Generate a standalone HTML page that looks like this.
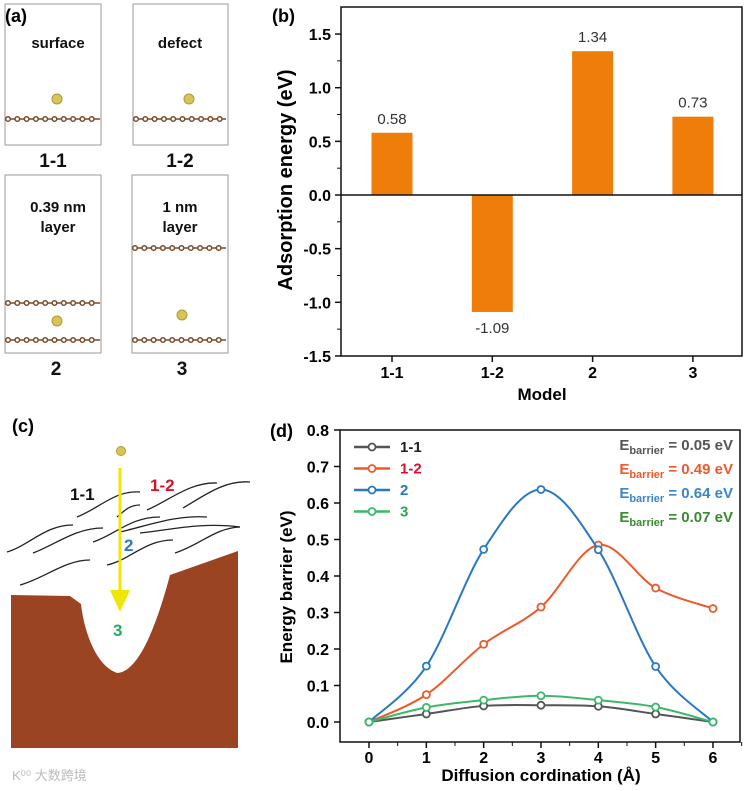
<!DOCTYPE html>
<html><head><meta charset="utf-8"><style>
body{margin:0;background:#fff;width:747px;height:791px;overflow:hidden;font-family:"Liberation Sans","Noto Sans CJK SC",sans-serif}
svg{display:block}
</style></head><body>
<svg width="747" height="791" viewBox="0 0 747 791" font-family="Liberation Sans, Noto Sans CJK SC, sans-serif">
<g>
<text x="5" y="22" font-size="18" font-weight="bold">(a)</text>
<rect x="5" y="4" width="96" height="141" fill="none" stroke="#999"/>
<rect x="133" y="4" width="95" height="141" fill="none" stroke="#999"/>
<rect x="5" y="175" width="96" height="178" fill="none" stroke="#999"/>
<rect x="132" y="175" width="96" height="178" fill="none" stroke="#999"/>
<g font-size="15" font-weight="bold" text-anchor="middle" fill="#111">
<text x="58" y="48">surface</text>
<text x="180" y="48">defect</text>
<text x="58" y="212">0.39 nm</text>
<text x="58" y="232">layer</text>
<text x="180" y="212">1 nm</text>
<text x="180" y="232">layer</text>
</g>
<g font-size="19" font-weight="bold" text-anchor="middle" fill="#111">
<text x="53" y="167">1-1</text>
<text x="180" y="167">1-2</text>
<text x="56" y="375">2</text>
<text x="182" y="375">3</text>
</g>
<g id="layers" stroke="#7a4a2a" stroke-width="1.5" fill="none"></g>
<circle cx="57" cy="99" r="5" fill="#d8c45a" stroke="#b09a30"/>
<circle cx="189" cy="99" r="5" fill="#d8c45a" stroke="#b09a30"/>
<circle cx="57" cy="321" r="5" fill="#d8c45a" stroke="#b09a30"/>
<circle cx="182" cy="315" r="5" fill="#d8c45a" stroke="#b09a30"/>
</g>
<g>
<text x="12" y="432" font-size="18" font-weight="bold">(c)</text>
<path d="M11,595 L70,596 L81,604 C84,630 95,665 117,673 C140,672 158,620 170,575 L238,551 L238,748 L11,748 Z" fill="#9a4422"/>
<g stroke="#222" stroke-width="1.3" fill="none">
<path d="M77,517 C100,508 115,490 140,492"/>
<path d="M117,517 C125,510 130,505 140,505"/>
<path d="M147,510 C170,500 190,482 217,483"/>
<path d="M183,508 C205,495 225,480 250,482"/>
<path d="M7,552 C30,545 45,525 73,525"/>
<path d="M33,553 C55,545 75,528 103,528"/>
<path d="M93,542 C115,535 130,517 160,517"/>
<path d="M120,532 C150,525 175,515 207,517"/>
<path d="M140,533 C170,530 200,522 240,527"/>
<path d="M107,565 C130,560 145,540 173,540"/>
<path d="M175,553 C200,545 215,528 240,527"/>
<path d="M20,585 C45,578 65,560 90,560"/>
</g>
<circle cx="121" cy="451" r="4.5" fill="#d8c45a" stroke="#b09a30"/>
<line x1="120" y1="468" x2="120" y2="595" stroke="#f2e600" stroke-width="3"/>
<polygon points="110,590 130,590 120,612" fill="#f2e600"/>
<g font-size="17" font-weight="bold">
<text x="70" y="500" fill="#111">1-1</text>
<text x="150" y="491" fill="#d8102a">1-2</text>
<text x="124" y="551" fill="#2a7ac4">2</text>
<text x="113" y="636" fill="#2aa860">3</text>
</g>
<text x="12" y="780" font-size="13" fill="#bbb">K⁰⁰ 大数跨境</text>
</g>
<g id="pb">
<text x="272" y="22" font-size="18" font-weight="bold">(b)</text>
<rect x="341" y="7" width="401" height="349" fill="none" stroke="#111" stroke-width="1.5"/>
<text transform="translate(292,180) rotate(-90)" text-anchor="middle" font-size="20" font-weight="bold">Adsorption energy (eV)</text>
<text x="542" y="400" text-anchor="middle" font-size="17" font-weight="bold">Model</text>
</g>
<g id="pd">
<text x="270" y="437" font-size="18" font-weight="bold">(d)</text>
<rect x="340" y="430" width="400" height="312" fill="none" stroke="#111" stroke-width="1.5"/>
<text transform="translate(292,587) rotate(-90)" text-anchor="middle" font-size="17" font-weight="bold">Energy barrier (eV)</text>
<text x="541" y="781" text-anchor="middle" font-size="17" font-weight="bold">Diffusion cordination (Å)</text>
<g font-size="15" font-weight="bold" text-anchor="end">
<text x="733" y="450" fill="#555">E<tspan font-size="11" dy="4">barrier</tspan><tspan dy="-4"> = 0.05 eV</tspan></text>
<text x="733" y="474" fill="#ec5a2c">E<tspan font-size="11" dy="4">barrier</tspan><tspan dy="-4"> = 0.49 eV</tspan></text>
<text x="733" y="498" fill="#3a86c8">E<tspan font-size="11" dy="4">barrier</tspan><tspan dy="-4"> = 0.64 eV</tspan></text>
<text x="733" y="522" fill="#3a8a30">E<tspan font-size="11" dy="4">barrier</tspan><tspan dy="-4"> = 0.07 eV</tspan></text>
</g>
</g>
</svg>
<script>
const NS='http://www.w3.org/2000/svg';
function mk(p,t,a){const e=document.createElementNS(NS,t);for(const k in a)e.setAttribute(k,a[k]);p.appendChild(e);return e;}
const L=document.getElementById('layers');
[[8,100,119],[136,226,119],[8,100,303],[8,100,340],[135,226,248],[135,226,340]].forEach(r=>{
  const ln=mk(L,'line',{x1:r[0],x2:r[1],y1:r[2],y2:r[2]});
  
  
  for(let x=r[0];x<=r[1];x+=9.3){const c=mk(L,'circle',{cx:x,cy:r[2],r:2.3,fill:'#fff'});
  
  }
});
const bCats=['1-1','1-2','2','3'];
const bVals=[0.58,-1.09,1.34,0.73];
const bLabels=['0.58','-1.09','1.34','0.73'];
const bTicks=[1.5,1.0,0.5,0.0,-0.5,-1.0,-1.5];
const bTickLabels=['1.5','1.0','0.5','0.0','-0.5','-1.0','-1.5'];
const pb=document.getElementById('pb');
const by=v=>195-v*107.3, bx=i=>392+i*100.3;
bTicks.forEach((t,i)=>{
  const l=mk(pb,'line',{x1:341,x2:335,y1:by(t),y2:by(t),stroke:'#111','stroke-width':1.5});
  
  
  if(i<bTicks.length-1){
  const m=mk(pb,'line',{x1:341,x2:337,y1:by(t-0.25),y2:by(t-0.25),stroke:'#111'});
  
  }
  const tx=mk(pb,'text',{x:331,y:by(t)+6,'text-anchor':'end','font-size':16,'font-weight':'bold'});tx.textContent=bTickLabels[i];
  
  
});
bCats.forEach((c,i)=>{
  const v=bVals[i];
  const r=mk(pb,'rect',{x:bx(i)-20.5,y:Math.min(by(v),by(0)),width:41,height:Math.abs(by(v)-by(0)),fill:'#ee7d0a'});
  
  
  const t=mk(pb,'text',{x:bx(i),y:v>=0?by(v)-9:by(v)+21,'text-anchor':'middle','font-size':15,fill:'#333'});t.textContent=bLabels[i];
  
  
  const tk=mk(pb,'line',{x1:bx(i),x2:bx(i),y1:356,y2:362,stroke:'#111','stroke-width':1.5});
  
  
  const xl=mk(pb,'text',{x:bx(i),y:378,'text-anchor':'middle','font-size':16,'font-weight':'bold'});xl.textContent=c;
  
  
});
const zl=mk(pb,'line',{x1:341,x2:742,y1:by(0),y2:by(0),stroke:'#111','stroke-width':1.5});


const dX=[0,1,2,3,4,5,6];
const s11=[0,0.022,0.044,0.046,0.043,0.022,0];
const s12=[0,0.075,0.213,0.315,0.485,0.367,0.311];
const s2=[0,0.153,0.473,0.637,0.472,0.152,0];
const s3=[0,0.040,0.060,0.072,0.060,0.041,0];
const dYTicks=[0,0.1,0.2,0.3,0.4,0.5,0.6,0.7,0.8];
const dYLabels=['0.0','0.1','0.2','0.3','0.4','0.5','0.6','0.7','0.8'];
const dXLabels=['0','1','2','3','4','5','6'];
const pd=document.getElementById('pd');
const dx=v=>369+v*57.33, dy=v=>722-v*365;
dYTicks.forEach((t,i)=>{
  const l=mk(pd,'line',{x1:340,x2:334,y1:dy(t),y2:dy(t),stroke:'#111','stroke-width':1.5});
  
  
  const tx=mk(pd,'text',{x:329,y:dy(t)+6,'text-anchor':'end','font-size':16,'font-weight':'bold'});tx.textContent=dYLabels[i];
  
  
});
dX.forEach((t,i)=>{
  const l=mk(pd,'line',{x1:dx(t),x2:dx(t),y1:742,y2:748,stroke:'#111','stroke-width':1.5});
  
  
  const m=mk(pd,'line',{x1:dx(t+0.5),x2:dx(t+0.5),y1:742,y2:746,stroke:'#111'});
  
  
  const tx=mk(pd,'text',{x:dx(t),y:763,'text-anchor':'middle','font-size':16,'font-weight':'bold'});tx.textContent=dXLabels[i];
  
  
});
function smooth(pts){let d='M'+pts[0][0]+','+pts[0][1];
  for(let i=0;i<pts.length-1;i++){const p0=pts[Math.max(0,i-1)],p1=pts[i],p2=pts[i+1],p3=pts[Math.min(pts.length-1,i+2)];
  const c1=[p1[0]+(p2[0]-p0[0])/6,p1[1]+(p2[1]-p0[1])/6],c2=[p2[0]-(p3[0]-p1[0])/6,p2[1]-(p3[1]-p1[1])/6];
  d+=' C'+c1+' '+c2+' '+p2;}return d;}
const series=[['1-1',s11,'#555555'],['1-2',s12,'#ec5a2c'],['2',s2,'#2a78c0'],['3',s3,'#3cb86a']];
const legCol=['#222','#d8102a','#2a78c0','#2aa850'];
series.forEach((s,k)=>{
  const pts=dX.map((x,i)=>[dx(x),dy(s[1][i])]);
  const p=mk(pd,'path',{d:smooth(pts),fill:'none',stroke:s[2],'stroke-width':2});
  
  
  pts.forEach(q=>{const c=mk(pd,'circle',{cx:q[0],cy:q[1],r:3.5,fill:'#fff',stroke:s[2],'stroke-width':1.8});
  
  });
  const ly=447+k*21.5;
  const ll=mk(pd,'line',{x1:354,x2:390,y1:ly,y2:ly,stroke:s[2],'stroke-width':2.5});
  
  
  const lc=mk(pd,'circle',{cx:372,cy:ly,r:3.5,fill:'#fff',stroke:s[2],'stroke-width':1.8});
  
  
  const lt=mk(pd,'text',{x:400,y:ly+5,'font-size':15,'font-weight':'bold',fill:legCol[k]});lt.textContent=s[0];
  
  
});
</script>
</body></html>
